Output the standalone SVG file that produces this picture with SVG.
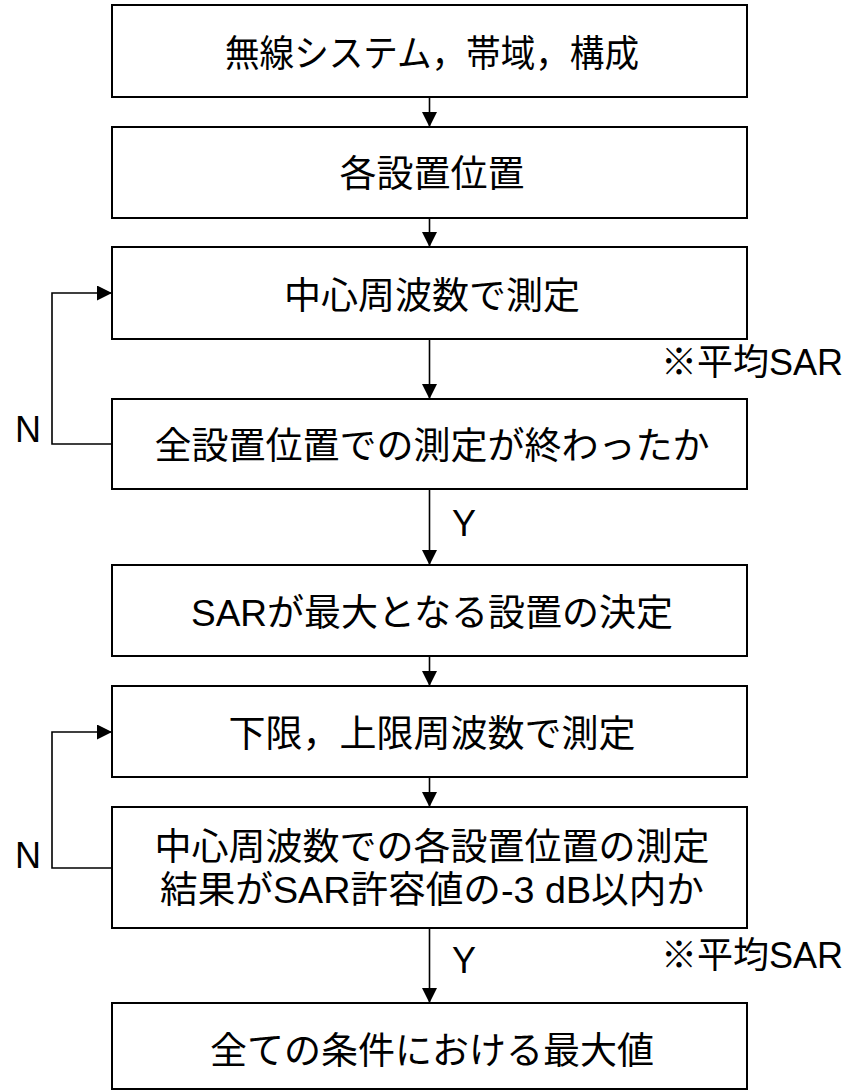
<svg xmlns="http://www.w3.org/2000/svg" width="849" height="1091" viewBox="0 0 849 1091">
<style>
.box{fill:#fff;stroke:#000;stroke-width:2}
.t{font-family:"Liberation Sans","Noto Sans CJK JP",sans-serif;font-size:36px;fill:#000}
.c{text-anchor:middle;font-size:37px}
.ln{fill:none;stroke:#000;stroke-width:1.6}
</style>
<defs>
<marker id="ah" markerUnits="userSpaceOnUse" markerWidth="15" markerHeight="15" refX="15" refY="7.5" orient="auto">
<path d="M0,0 L15,7.5 L0,15 z" fill="#000"/>
</marker>
</defs>
<rect width="849" height="1091" fill="#fff"/>
<g id="connectors">
<line class="ln" x1="429.5" y1="97" x2="429.5" y2="127" marker-end="url(#ah)"/>
<line class="ln" x1="429.5" y1="218" x2="429.5" y2="247" marker-end="url(#ah)"/>
<line class="ln" x1="429.5" y1="339" x2="429.5" y2="399" marker-end="url(#ah)"/>
<line class="ln" x1="429.5" y1="489" x2="429.5" y2="565" marker-end="url(#ah)"/>
<line class="ln" x1="429.5" y1="656" x2="429.5" y2="686" marker-end="url(#ah)"/>
<line class="ln" x1="429.5" y1="777" x2="429.5" y2="807" marker-end="url(#ah)"/>
<line class="ln" x1="429.5" y1="928" x2="429.5" y2="1003" marker-end="url(#ah)"/>
<path class="ln" d="M112,444 H52 V293 H112" marker-end="url(#ah)"/>
<path class="ln" d="M112,868 H52 V732 H112" marker-end="url(#ah)"/>
<text class="t" x="15" y="442">N</text>
<text class="t" x="15" y="868">N</text>
<text class="t" x="452" y="536">Y</text>
<text class="t" x="452" y="973">Y</text>
<text class="t" x="661" y="375">※平均SAR</text>
<text class="t" x="661" y="968">※平均SAR</text>
</g>
<g id="n1"><rect class="box" x="112" y="5" width="635" height="92"/><text class="t c" x="432" y="67" textLength="414" lengthAdjust="spacingAndGlyphs">無線システム，帯域，構成</text></g>
<g id="n2"><rect class="box" x="112" y="127" width="635" height="91"/><text class="t c" x="432" y="187">各設置位置</text></g>
<g id="n3"><rect class="box" x="112" y="247" width="635" height="92"/><text class="t c" x="432" y="309">中心周波数で測定</text></g>
<g id="n4"><rect class="box" x="112" y="399" width="635" height="90"/><text class="t c" x="432" y="459">全設置位置での測定が終わったか</text></g>
<g id="n5"><rect class="box" x="112" y="565" width="635" height="91"/><text class="t c" x="432" y="626">SARが最大となる設置の決定</text></g>
<g id="n6"><rect class="box" x="112" y="686" width="635" height="91"/><text class="t c" x="432" y="747">下限，上限周波数で測定</text></g>
<g id="n7"><rect class="box" x="112" y="807" width="635" height="121"/><text class="t c" x="432" y="860">中心周波数での各設置位置の測定</text><text class="t c" x="432" y="903" textLength="544" lengthAdjust="spacingAndGlyphs">結果がSAR許容値の-3 dB以内か</text></g>
<g id="n8"><rect class="box" x="112" y="1003" width="635" height="86"/><text class="t c" x="432" y="1064">全ての条件における最大値</text></g>
</svg>
